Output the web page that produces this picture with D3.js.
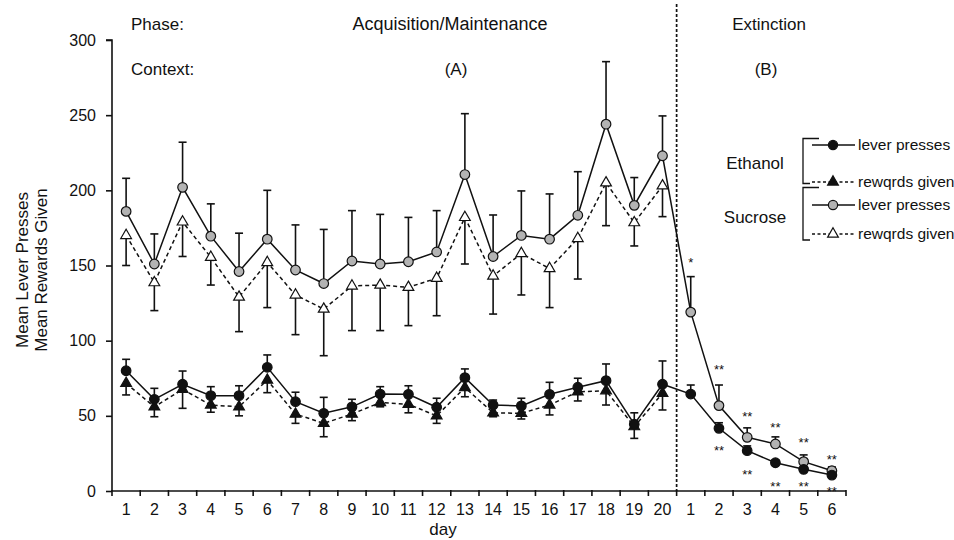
<!DOCTYPE html>
<html>
<head>
<meta charset="utf-8">
<script src="https://cdn.jsdelivr.net/npm/d3@7"></script>
<style>
  body { margin: 0; background: #fff; }
  svg text { font-family: "Liberation Sans", Arial, sans-serif; fill: #111; }
</style>
</head>
<body>
<svg id="chart" width="954" height="540"></svg>
<script>
// ---------------- data ----------------
const dayLabels = ["1","2","3","4","5","6","7","8","9","10","11","12","13","14","15","16","17","18","19","20",
                   "1","2","3","4","5","6"];
const yTicks = [0, 50, 100, 150, 200, 250, 300];

const sucroseLever    = [186,151,202,169.5,146,167.5,147,138,153,151,152.5,159,210.5,156,170,167.5,183.4,244,190,223,
                         119,56.8,35.7,31.3,19.5,13.5];
const sucroseLeverErr = [22,20,30,21.5,25.5,32.5,30,36,33.5,33,29.5,27.5,40.5,27.6,29.6,30.1,29,41.6,18.5,26.5,
                         23.6,13.7,6.3,4.7,4.5,2.5];
const sucroseRewards    = [170,138.6,179,155.5,129,152,130.4,121,136.4,137,135.5,141.5,182,143,158,148,168,205,178.5,203];
const sucroseRewardsErr = [20,18.6,23,18.5,23,30,26.4,31,29.7,30.3,25.5,24.9,31,25.3,27.6,26,27,28.5,15.5,20.5];

const ethanolLever    = [80,61,71,63.4,63.4,82.3,59.4,51.7,56,64.5,64.3,55.7,75.4,57.2,56.6,64.3,69,73.4,44.4,71,
                         64.5,41.7,26.8,18.8,14.4,10.6];
const ethanolLeverErr = [7.6,7.3,8.8,6,6.6,8.2,6.3,10.6,5,4.9,5.7,6,5.8,3.3,5.1,8,6,11.1,7.6,15.5,
                         6,3.7,3.2,1.5,1,1];
const ethanolRewards    = [71.6,56,67.6,57.2,56,73.8,51.2,45,51.2,58.8,57.7,50,68.8,52,51.7,57.2,66,66.7,42.8,65];
const ethanolRewardsErr = [7.7,6.6,12.6,4.8,6,8.4,6.2,8.9,4.4,2.8,5.7,5,6.1,2.6,3.8,6.6,6.1,9.5,7.8,11.1];

// significance marks (day index, text, value position)
const sigIdx   = [20, 21, 22, 23, 24, 25, 21, 22, 23, 24, 25];
const sigText  = ["*","**","**","**","**","**","**","**","**","**","**"];
const sigValue = [154, 83, 52, 44.6, 34.6, 23.3, 29.5, 13.5, 5, 5, 2];

const phaseLabels = ["Acquisition/Maintenance", "Extinction"];
const contextLabels = ["(A)", "(B)"];
const legendGroups = ["Ethanol", "Sucrose"];
const legendItems = ["lever presses", "rewqrds given"];

// ---------------- layout ----------------
const svg = d3.select("#chart");
const pLeft = 112, pRight = 846, pTop = 40, pBottom = 491;
const idx = d3.range(dayLabels.length);

const x = d3.scaleBand().domain(idx).range([pLeft, pRight]).paddingInner(0).paddingOuter(0);
const cx = i => x(i) + x.bandwidth() / 2;
const y = d3.scaleLinear().domain([0, 300]).range([pBottom, pTop]);

const gray = "#b3b3b3";

// axes
const yAxis = d3.axisLeft(y).tickValues(yTicks).tickSize(6).tickPadding(10).tickSizeOuter(0);
svg.append("g").attr("transform", `translate(${pLeft},0)`).call(yAxis)
  .call(g => g.select(".domain").attr("stroke", "#111").attr("stroke-width", 1.6).attr("d", `M-6,${pTop}H0V${pBottom}`))
  .call(g => g.selectAll(".tick line").attr("stroke", "#111").attr("stroke-width", 1.6))
  .call(g => g.selectAll(".tick text").style("font-size", "16px").attr("fill", "#111"));

// x axis: line, boundary ticks, centered labels
const xg = svg.append("g");
xg.append("line").attr("x1", pLeft).attr("x2", pRight).attr("y1", pBottom).attr("y2", pBottom)
  .attr("stroke", "#111").attr("stroke-width", 1.6);
const bounds = d3.range(dayLabels.length + 1).map(i => i < dayLabels.length ? x(i) : pRight);
xg.selectAll(".bt").data(bounds).join("line")
  .attr("x1", d => d).attr("x2", d => d).attr("y1", pBottom - 1).attr("y2", pBottom + 5)
  .attr("stroke", "#111").attr("stroke-width", 1.6);
xg.selectAll(".xl").data(idx).join("text")
  .attr("x", d => cx(d)).attr("y", 515).attr("text-anchor", "middle")
  .style("font-size", "16px").text(d => dayLabels[d]);

svg.append("text").attr("x", 443).attr("y", 535).attr("text-anchor", "middle")
  .style("font-size", "17px").text("day");

// y label
const yl = svg.append("text").attr("transform", "translate(28,270) rotate(-90)")
  .attr("text-anchor", "middle").style("font-size", "17px");
yl.append("tspan").attr("x", 0).attr("dy", 0).text("Mean Lever Presses");
yl.append("tspan").attr("x", 0).attr("dy", 19).text("Mean Rewards Given");

// phase divider
const divX = x(20);
svg.append("line").attr("x1", divX).attr("x2", divX).attr("y1", 4).attr("y2", pBottom)
  .attr("stroke", "#111").attr("stroke-width", 1.7).attr("stroke-dasharray", "3,2");

// header texts
svg.append("text").attr("x", 131).attr("y", 30).style("font-size", "17px").text("Phase:");
svg.append("text").attr("x", 131).attr("y", 75).style("font-size", "17px").text("Context:");
svg.append("text").attr("x", 450).attr("y", 30).attr("text-anchor", "middle").style("font-size", "18px").text(phaseLabels[0]);
svg.append("text").attr("x", 769).attr("y", 30).attr("text-anchor", "middle").style("font-size", "17px").text(phaseLabels[1]);
svg.append("text").attr("x", 456).attr("y", 75).attr("text-anchor", "middle").style("font-size", "17px").text(contextLabels[0]);
svg.append("text").attr("x", 766).attr("y", 75).attr("text-anchor", "middle").style("font-size", "17px").text(contextLabels[1]);

// ---------------- series ----------------
function errBars(vals, errs, dir) {
  const g = svg.append("g").attr("stroke", "#111").attr("stroke-width", 1.6);
  vals.forEach((v, i) => {
    const end = v + dir * errs[i];
    g.append("line").attr("x1", cx(i)).attr("x2", cx(i)).attr("y1", y(v)).attr("y2", y(end));
    g.append("line").attr("x1", cx(i) - 4).attr("x2", cx(i) + 4).attr("y1", y(end)).attr("y2", y(end));
  });
}
function seriesLine(vals, dashed) {
  svg.append("path").datum(vals)
    .attr("fill", "none").attr("stroke", "#111").attr("stroke-width", 1.5)
    .attr("stroke-dasharray", dashed ? "4,3" : null)
    .attr("d", d3.line().x((d, i) => cx(i)).y(d => y(d)));
}
function circles(vals, fill) {
  svg.append("g").selectAll("circle").data(vals).join("circle")
    .attr("cx", (d, i) => cx(i)).attr("cy", d => y(d)).attr("r", 4.8)
    .attr("fill", fill).attr("stroke", "#111").attr("stroke-width", 1.2);
}
const tri = d3.symbol().type(d3.symbolTriangle).size(50);
function triangles(vals, fill) {
  svg.append("g").selectAll("path").data(vals).join("path")
    .attr("transform", (d, i) => `translate(${cx(i)},${y(d)})`)
    .attr("d", tri).attr("fill", fill).attr("stroke", "#111").attr("stroke-width", 1.2);
}

errBars(sucroseLever, sucroseLeverErr, 1);
errBars(sucroseRewards, sucroseRewardsErr, -1);
errBars(ethanolLever, ethanolLeverErr, 1);
errBars(ethanolRewards, ethanolRewardsErr, -1);

seriesLine(sucroseRewards, true);
seriesLine(ethanolRewards, true);
seriesLine(sucroseLever, false);
seriesLine(ethanolLever, false);

triangles(sucroseRewards, "#fff");
triangles(ethanolRewards, "#111");
circles(sucroseLever, gray);
circles(ethanolLever, "#111");

// significance
svg.append("g").selectAll("text").data(sigIdx).join("text")
  .attr("x", (d, k) => cx(d)).attr("y", (d, k) => y(sigValue[k]) + 8)
  .attr("text-anchor", "middle").style("font-size", "13px")
  .text((d, k) => sigText[k]);

// ---------------- legend ----------------
const lg = svg.append("g");
const groupY = [163, 217];
const bracketTop = [138.5, 187.5];
const bracketBot = [183.5, 240];
const itemY = [[145, 182], [205, 234]];
legendGroups.forEach((name, gi) => {
  lg.append("text").attr("x", 755).attr("y", groupY[gi] + 6).attr("text-anchor", "middle")
    .style("font-size", "17px").text(name);
  lg.append("path").attr("fill", "none").attr("stroke", "#111").attr("stroke-width", 1.3)
    .attr("d", `M819,${bracketTop[gi]}H803V${bracketBot[gi]}H810`);
  legendItems.forEach((item, ii) => {
    const yy = itemY[gi][ii];
    lg.append("line").attr("x1", 812).attr("x2", 855).attr("y1", yy).attr("y2", yy)
      .attr("stroke", "#111").attr("stroke-width", 1.3).attr("stroke-dasharray", ii ? "3,2.5" : null);
    if (ii === 0) {
      lg.append("circle").attr("cx", 833).attr("cy", yy).attr("r", 4.6)
        .attr("fill", gi ? gray : "#111").attr("stroke", "#111").attr("stroke-width", 1.2);
    } else {
      lg.append("path").attr("transform", `translate(833,${yy})`).attr("d", tri)
        .attr("fill", gi ? "#fff" : "#111").attr("stroke", "#111").attr("stroke-width", 1.2);
    }
    lg.append("text").attr("x", 858).attr("y", yy + 5).style("font-size", "15.5px").text(item);
  });
});
</script>
</body>
</html>
